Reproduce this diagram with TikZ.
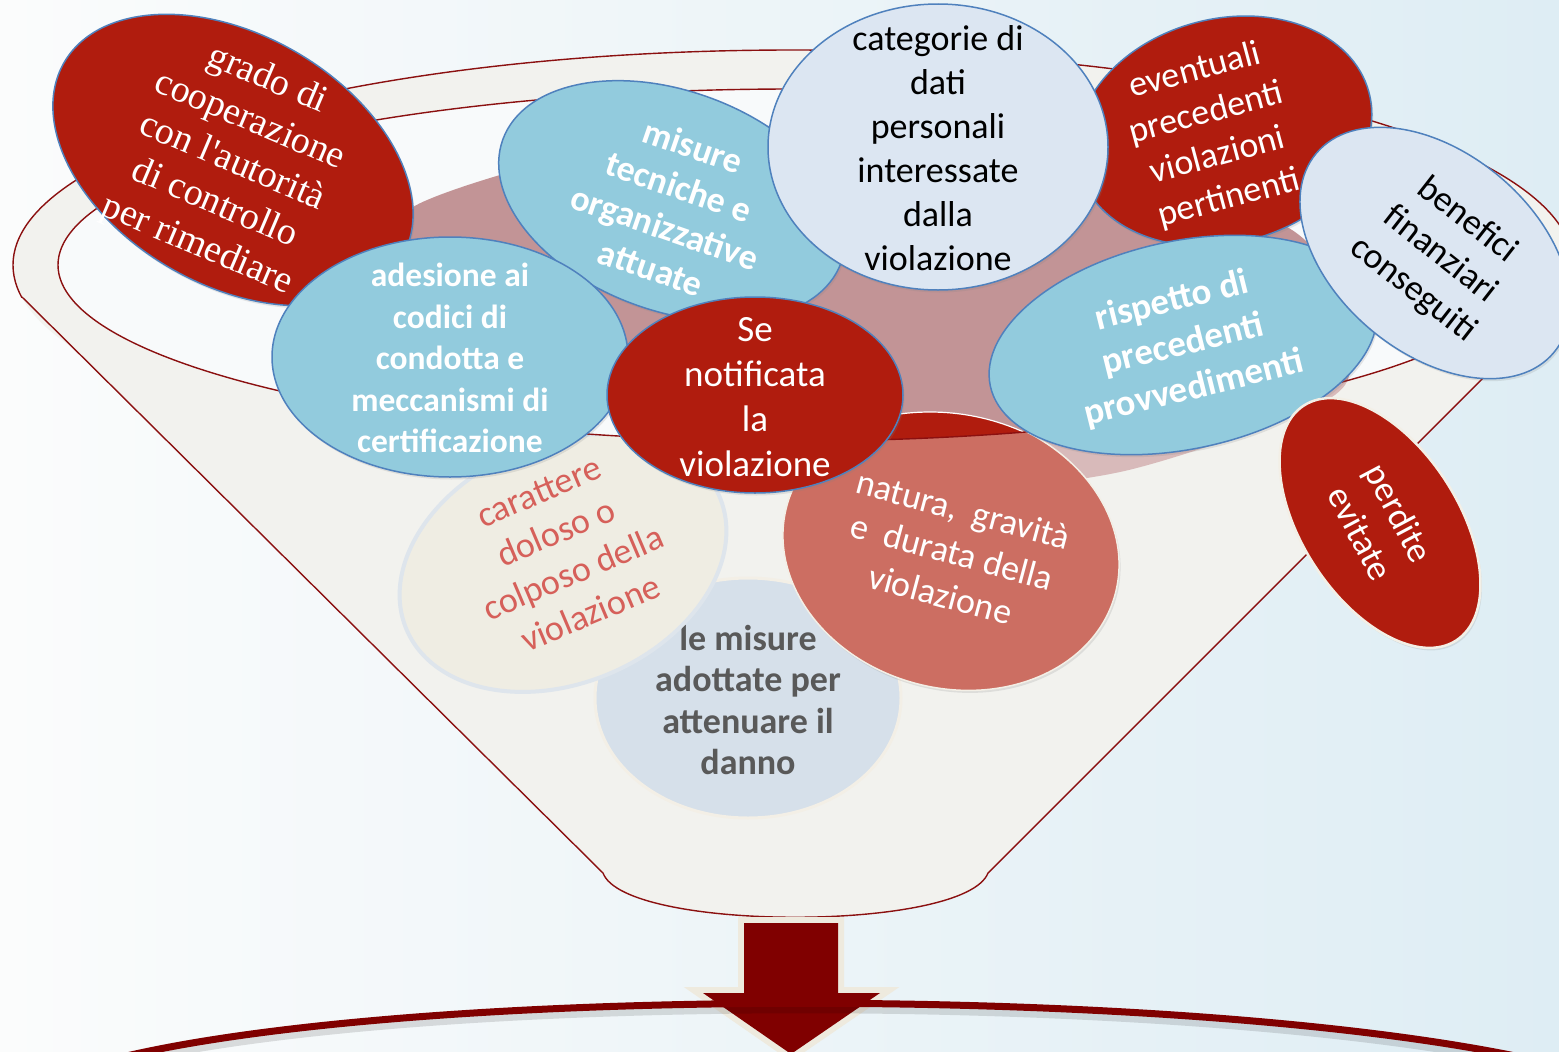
\documentclass[tikz,border=0pt]{standalone}
\usepackage{fontspec}
\setmainfont{Carlito}
\newfontfamily\serifface{Liberation Serif}
\usetikzlibrary{shapes.geometric,shadows}

\definecolor{bgleft}{RGB}{251,252,252}
\definecolor{bgright}{RGB}{222,237,244}
\definecolor{rimred}{RGB}{139,16,16}
\definecolor{bubred}{RGB}{176,28,14}
\definecolor{bubblue}{RGB}{146,203,221}
\definecolor{bubpale}{RGB}{220,230,242}
\definecolor{edgeblue}{RGB}{79,129,189}
\definecolor{funnelgray}{RGB}{242,242,238}
\definecolor{holewhite}{RGB}{248,250,251}
\definecolor{mauve}{RGB}{194,148,150}
\definecolor{mauvelight}{RGB}{216,186,186}
\definecolor{salmon}{RGB}{204,110,98}
\definecolor{tanfill}{RGB}{239,237,227}
\definecolor{tanedge}{RGB}{222,229,236}
\definecolor{misty}{RGB}{214,224,234}
\definecolor{creamedge}{RGB}{243,239,230}
\definecolor{arrowred}{RGB}{128,0,0}
\definecolor{arrowtan}{RGB}{238,234,222}
\definecolor{softred}{RGB}{214,96,90}
\definecolor{graytext}{RGB}{89,89,89}

\tikzset{
  radii/.style 2 args={minimum width={2*#1*1pt}, minimum height={2*#2*1pt}},
  bubble/.style={ellipse, inner sep=0pt, draw=edgeblue, line width=1.5pt,
    drop shadow={opacity=0.18, shadow xshift=1.5pt, shadow yshift=-2.5pt}},
  softbubble/.style={ellipse, inner sep=0pt, line width=3pt},
  btext/.style={align=center, inner sep=0pt, font=\fontsize{36}{44}\selectfont},
  boldtext/.style={align=center, inner sep=0pt, text=white, font=\bfseries\fontsize{36}{43}\selectfont},
  rimline/.style={rimred, line width=1.4pt},
}

\begin{document}
\begin{tikzpicture}[x=1pt,y=-1pt]
\useasboundingbox (0,0) rectangle (1559,1052);
\shade[left color=bgleft, right color=bgright] (0,0) rectangle (1559,1052);

% funnel body and rim
\fill[funnelgray] (22,297) -- (603,873) .. controls (625,932) and (965,932) .. (988,873) -- (1564,297) -- cycle;
\fill[funnelgray] (793,265) ellipse [x radius=780, y radius=215];
\draw[rimline] (22,297) -- (603,873) .. controls (625,932) and (965,932) .. (988,873) -- (1564,297);
\begin{scope}
  \clip (-20,-20) rectangle (1600,297);
  \draw[rimline] (793,265) ellipse [x radius=780, y radius=215];
\end{scope}

% liquid, part seen through the funnel wall
\def\liquid{plot[smooth cycle] coordinates {(390,300) (395,240) (413,207) (500,175) (640,140) (800,125) (1000,140) (1180,185) (1295,232) (1345,300) (1345,385) (1260,428) (1120,472) (980,488) (820,478) (700,440) (600,400) (450,350)}}
\fill[mauvelight] \liquid;

% bubbles inside the funnel
\node[softbubble, radii={153}{120}, fill=misty, draw=creamedge] (misure2) at (748,698) {};
\node[align=center, inner sep=0pt, text=graytext, font=\bfseries\fontsize{36}{41.5}\selectfont] (misure2txt) at (748,700) {le misure\\adottate per\\attenuare il\\danno};

\node[softbubble, radii={170}{120}, rotate=23, fill=tanfill, draw=tanedge, line width=4pt] (carattere) at (563,563) {};
\node[btext, text=softred, rotate=23] (caratteretxt) at (565,553) {carattere\\doloso o\\colposo della\\violazione};

\node[ellipse, inner sep=0pt, radii={170}{138}, rotate=-15, fill=salmon, draw=creamedge, line width=1.5pt,
  drop shadow={opacity=0.18, shadow xshift=1.5pt, shadow yshift=-2.5pt}] (natura) at (951,550) {};
\node[btext, text=white, rotate=-15] (naturatxt) at (952,552) {natura,\ \ gravità\\e\ \ durata della\\violazione};

% funnel opening with the liquid surface
\fill[holewhite] (793,265) ellipse [x radius=735, y radius=176];
\begin{scope}
  \clip (793,265) ellipse [x radius=735, y radius=176];
  \fill[mauve] \liquid;
  \fill[bubred] (930,640) circle [radius=228];
  \draw[white, line width=1.2pt] (930,640) circle [radius=228];
\end{scope}
\draw[rimline] (793,265) ellipse [x radius=735, y radius=176];

% bubbles on the rim
\node[bubble, radii={195}{125}, rotate=-30, fill=bubred] (grado) at (233,160) {};
\node[align=center, inner sep=0pt, text=white, rotate=-23, font=\serifface\fontsize{38}{45}\selectfont] (gradotxt) at (232,163) {grado di\\cooperazione\\con l'autorità\\di controllo\\per rimediare};

\node[bubble, radii={180}{110}, rotate=-20, fill=bubblue] (tecniche) at (672,201) {};
\node[boldtext, rotate=-19] (tecnichetxt) at (672,207) {misure\\tecniche e\\organizzative\\attuate};

\node[bubble, radii={150}{112}, rotate=15, fill=bubred] (eventuali) at (1224,131) {};
\node[btext, text=white, rotate=15] (eventualitxt) at (1212,135) {eventuali\\precedenti\\violazioni\\pertinenti};

\node[bubble, radii={170}{143}, fill=bubpale] (categorie) at (938,147) {};
\node[btext, text=black] (categorietxt) at (938,148) {categorie di\\dati\\personali\\interessate\\dalla\\violazione};

\node[bubble, radii={197}{104}, rotate=12, fill=bubblue] (rispetto) at (1183,345) {};
\node[boldtext, rotate=14, font=\bfseries\fontsize{37}{45}\selectfont] (rispettotxt) at (1183,345) {rispetto di\\precedenti\\provvedimenti};

\node[bubble, radii={155}{100}, rotate=-40, fill=bubpale] (benefici) at (1435,253) {};
\node[btext, text=black, rotate=-38] (beneficitxt) at (1440,255) {benefici\\finanziari\\conseguiti};

\node[bubble, radii={178}{120}, fill=bubblue] (adesione) at (450,357) {};
\node[boldtext, font=\bfseries\fontsize{33.5}{41.5}\selectfont] (adesionetxt) at (450,358) {adesione ai\\codici di\\condotta e\\meccanismi di\\certificazione};

\node[bubble, radii={148}{98}, fill=bubred] (notifica) at (755,395) {};
\node[btext, text=white, font=\fontsize{37}{45}\selectfont] (notificatxt) at (755,397) {Se\\notificata\\la\\violazione};

\node[ellipse, inner sep=0pt, radii={140}{78}, rotate=-57, fill=bubred, draw=creamedge, line width=2.5pt,
  drop shadow={opacity=0.18, shadow xshift=1.5pt, shadow yshift=-2.5pt}] (perdite) at (1380,523) {};
\node[btext, text=white, rotate=-62] (perditetxt) at (1380,523) {perdite\\evitate};

% output arrow and result arc
\coordinate (spout) at (791,923);
\draw[arrowtan, line width=12pt, line join=miter, fill=arrowtan]
  (744,923) -- (838,923) -- (838,993) -- (880,993) -- (791,1054) -- (703,993) -- (744,993) -- cycle;
\fill[arrowred]
  (744,923) -- (838,923) -- (838,993) -- (880,993) -- (791,1054) -- (703,993) -- (744,993) -- cycle;

\coordinate (arcl) at (118,1058);
\coordinate (arcr) at (1525,1058);
\draw[black, opacity=0.12, line width=10pt] ([yshift=-5pt]arcl) .. controls ([yshift=-5pt]420,985) and ([yshift=-5pt]1180,985) .. ([yshift=-5pt]arcr);
\draw[arrowred, line width=7pt] (arcl) .. controls (420,985) and (1180,985) .. (arcr);
\end{tikzpicture}
\end{document}
